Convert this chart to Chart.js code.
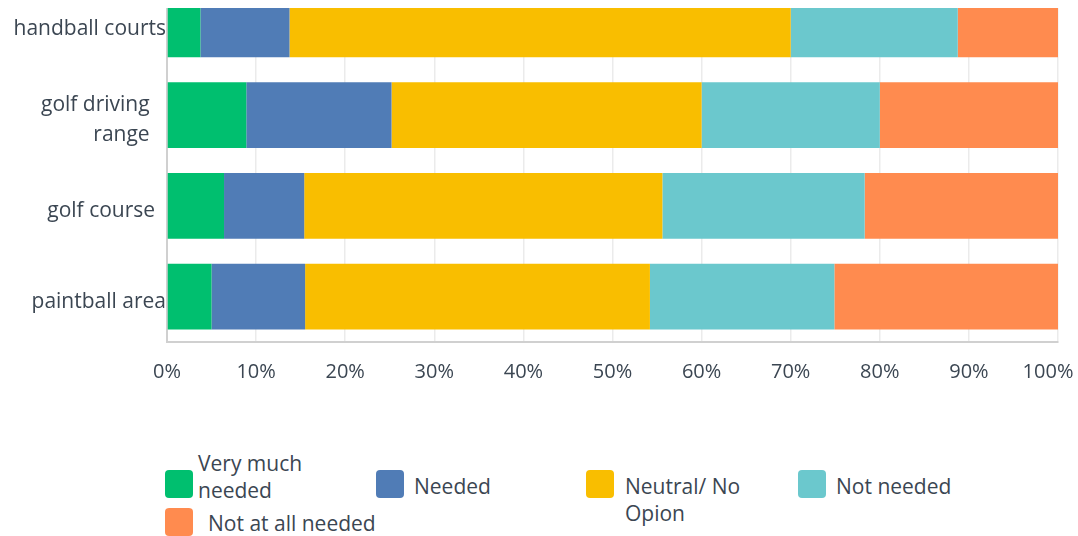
<!DOCTYPE html>
<html>
<head>
<meta charset="utf-8">
<script src="https://cdn.jsdelivr.net/npm/chart.js@4.4.1/dist/chart.umd.min.js"></script>
<style>
  body { margin: 0; width: 1078px; height: 536px; overflow: hidden; background: #fff; position: relative; font-family: "Open Sans", sans-serif; }
  #wrap { position: absolute; left: 0; top: -21px; width: 1078px; height: 405px; clip-path: inset(29px 0 0 0); }
  .box { position: absolute; width: 28px; height: 28px; border-radius: 4px; }
  .label { position: absolute; font-size: 21px; line-height: 27px; color: #3b4652; white-space: nowrap; }
</style>
</head>
<body>
<div id="wrap"><canvas id="chart"></canvas></div>
<div id="legend"></div>
<script>
const categories = ['handball courts', ['golf driving   ', 'range   '], 'golf course  ', 'paintball area'];
const seriesNames = [['Very much', 'needed'], ['Needed'], ['Neutral/ No', 'Opion'], ['Not needed'], ['Not at all needed']];
const seriesColors = ['#00bf6f', '#507cb6', '#f9be00', '#6bc8cd', '#ff8b4f'];

// percent of respondents per facility
const veryMuchNeeded = [3.75, 8.9, 6.4, 5.0];
const needed = [10.0, 16.3, 9.0, 10.5];
const neutral = [56.25, 34.8, 40.2, 38.7];
const notNeeded = [18.75, 20.0, 22.7, 20.7];
const notAtAllNeeded = [11.25, 20.0, 21.7, 25.1];

const textColor = '#3b4652';

function initChart() {
    const ctx = document.getElementById('chart').getContext('2d');
    const values = [veryMuchNeeded, needed, neutral, notNeeded, notAtAllNeeded];

    new Chart(ctx, {
        type: 'bar',
        data: {
            labels: categories,
            datasets: values.map((v, i) => ({
                label: seriesNames[i].join(' '),
                data: v,
                backgroundColor: seriesColors[i],
                borderWidth: 0,
                barPercentage: 0.727,
                categoryPercentage: 1
            }))
        },
        options: {
            indexAxis: 'y',
            responsive: true,
            maintainAspectRatio: false,
            animation: false,
            layout: { padding: 0 },
            plugins: {
                legend: { display: false },
                tooltip: { enabled: false }
            },
            scales: {
                x: {
                    stacked: true,
                    min: 0,
                    max: 100,
                    afterFit: (scale) => {
                        scale.height = 42;
                        scale.paddingLeft = 0;
                        scale.paddingRight = 20;
                    },
                    ticks: {
                        stepSize: 10,
                        padding: 18,
                        color: textColor,
                        font: { family: 'Open Sans', size: 20 },
                        // last label sits a little inside the right edge
                        callback: (v) => v === 100 ? '100%\u2002\u2002' : v + '%'
                    },
                    grid: { color: '#ebebeb', lineWidth: 1.5, drawTicks: false },
                    border: { color: '#d0d0d0', width: 2 }
                },
                y: {
                    stacked: true,
                    afterFit: (scale) => {
                        scale.width = 167;
                        scale.paddingTop = 0;
                        scale.paddingBottom = 0;
                    },
                    ticks: {
                        padding: 1,
                        labelOffset: 5,
                        color: textColor,
                        font: { family: 'Open Sans', size: 21, lineHeight: 1.43 }
                    },
                    grid: { display: false, drawTicks: false },
                    border: { color: '#d0d0d0', width: 2 }
                }
            }
        }
    });
}

function buildLegend() {
    // box left/top, text left/top for each legend entry
    const spots = [
        [165, 470, 198, 450],
        [376, 470, 414, 473],
        [586, 470, 625, 473],
        [798, 470, 836, 473],
        [165, 508, 208, 510]
    ];
    const legend = document.getElementById('legend');
    seriesNames.forEach((name, i) => {
        const [bx, by, tx, ty] = spots[i];
        const box = document.createElement('div');
        box.className = 'box';
        box.style.left = bx + 'px';
        box.style.top = by + 'px';
        box.style.background = seriesColors[i];
        const label = document.createElement('div');
        label.className = 'label';
        label.style.left = tx + 'px';
        label.style.top = ty + 'px';
        label.innerHTML = name.join('<br>');
        legend.appendChild(box);
        legend.appendChild(label);
    });
}

document.addEventListener('DOMContentLoaded', () => {
    initChart();
    buildLegend();
});
</script>
</body>
</html>
